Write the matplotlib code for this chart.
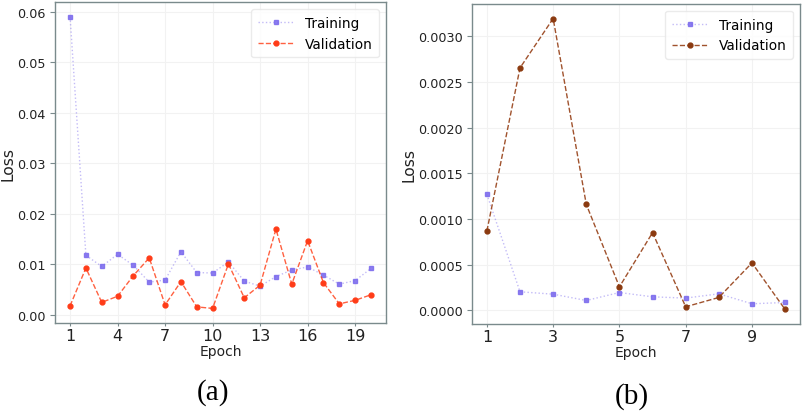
import numpy as np
import matplotlib.pyplot as plt

# (a) 20 epochs
epochs_a = list(range(1, 21))
train_a = [0.0590, 0.0118, 0.0096, 0.0120, 0.0098, 0.0065, 0.0069, 0.0125, 0.0084, 0.0083,
           0.0105, 0.0067, 0.0057, 0.0076, 0.0089, 0.0095, 0.0079, 0.0061, 0.0068, 0.0092]
val_a = [0.0018, 0.0093, 0.0025, 0.0037, 0.0078, 0.0113, 0.0020, 0.0066, 0.0016, 0.0013,
         0.0101, 0.0034, 0.0059, 0.0170, 0.0061, 0.0147, 0.0064, 0.0022, 0.0029, 0.0040]
xticks_a = [1, 4, 7, 10, 13, 16, 19]

# (b) 10 epochs
epochs_b = list(range(1, 11))
train_b = [0.00127, 0.000204, 0.000178, 0.000109, 0.000196, 0.000149, 0.000135, 0.000182,
           0.000073, 0.000087]
val_b = [0.000869, 0.002653, 0.003193, 0.00116, 0.000258, 0.000851, 0.000040, 0.000142,
         0.000520, 0.000011]
xticks_b = [1, 3, 5, 7, 9]

plt.rcParams['font.family'] = 'DejaVu Sans'

fig = plt.figure(figsize=(8.02, 4.14), dpi=100)
ax1 = fig.add_axes([0.0686, 0.2174, 0.4127, 0.775])
ax2 = fig.add_axes([0.5885, 0.2150, 0.4090, 0.773])

train_line = (0.48, 0.41, 0.93, 0.45)
train_mark = (0.48, 0.41, 0.93, 0.85)


def style(ax, xticks, fmt):
    ax.grid(True, color='#f2f2f2', linewidth=0.8)
    ax.set_axisbelow(True)
    for s in ax.spines.values():
        s.set_color('#7a8a8c')
        s.set_linewidth(1.0)
    ax.set_xticks(xticks)
    ax.tick_params(axis='y', labelsize=9.2, colors='#7a8a8c', labelcolor='#222222', length=3.5, pad=3)
    ax.tick_params(axis='x', labelsize=11.5, colors='#7a8a8c', labelcolor='#222222', length=2, pad=1.5)
    ax.yaxis.set_major_formatter(plt.FormatStrFormatter(fmt))
    ax.set_xlabel('Epoch', fontsize=10, color='#222222', labelpad=0.5)
    ax.set_ylabel('Loss', fontsize=11.2, color='#222222', labelpad=1.5)
    leg = ax.legend(loc='upper right', fontsize=9.8, handlelength=2.6, borderpad=0.5)
    leg.get_frame().set_edgecolor('#e6e6e6')


ax1.plot(epochs_a, train_a, linestyle=':', color=train_line, marker='s', markersize=3.5,
         markerfacecolor=train_mark, markeredgecolor=train_mark, linewidth=1.0, label='Training')
ax1.plot(epochs_a, val_a, linestyle='--', color=(1.0, 0.27, 0.12, 0.85), marker='o', markersize=3.5,
         markerfacecolor='#ff3c18', markeredgecolor='#ff3c18', linewidth=1.0, label='Validation')
ax1.set_yticks([0.0, 0.01, 0.02, 0.03, 0.04, 0.05, 0.06])
style(ax1, xticks_a, '%.2f')

ax2.plot(epochs_b, train_b, linestyle=':', color=train_line, marker='s', markersize=3.5,
         markerfacecolor=train_mark, markeredgecolor=train_mark, linewidth=1.0, label='Training')
ax2.plot(epochs_b, val_b, linestyle='--', color='#a0522d', marker='o', markersize=3.5,
         markerfacecolor='#8b3a10', markeredgecolor='#8b3a10', linewidth=1.0, label='Validation')
ax2.set_yticks([0.0, 0.0005, 0.001, 0.0015, 0.002, 0.0025, 0.003])
style(ax2, xticks_b, '%.4f')

fig.text(0.266, 0.053, '(a)', fontsize=21, family='Liberation Serif', ha='center', va='center')
fig.text(0.788, 0.041, '(b)', fontsize=21, family='Liberation Serif', ha='center', va='center')

fig.savefig('out.png', dpi=100)
